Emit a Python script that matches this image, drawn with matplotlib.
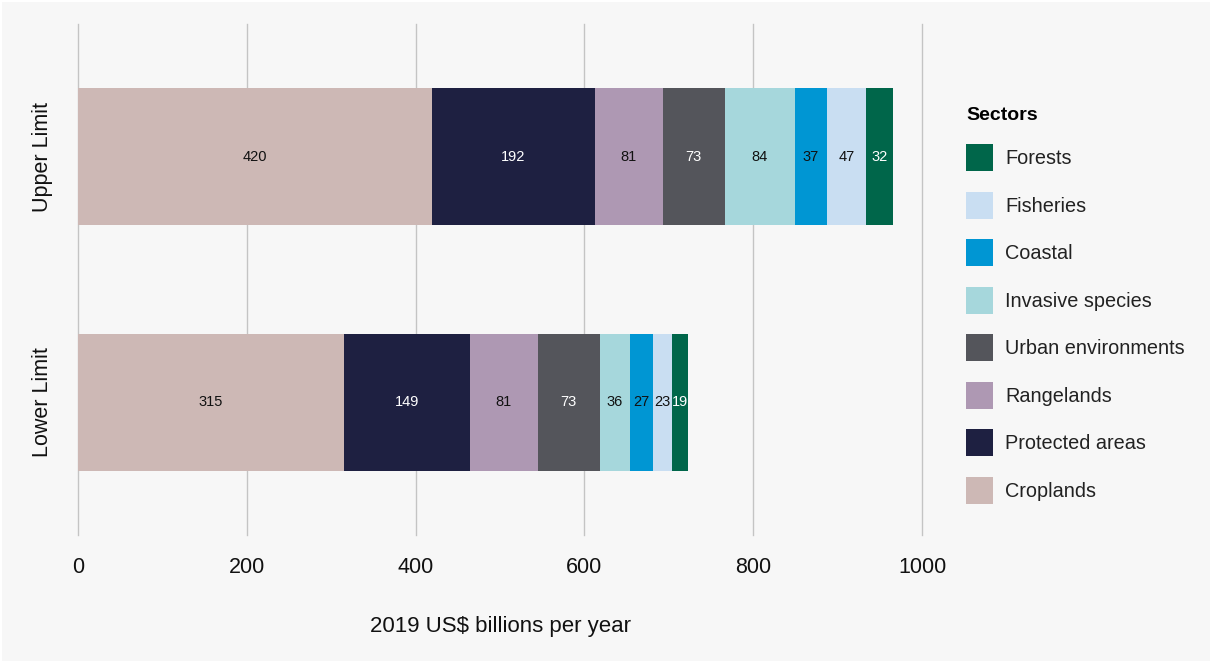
import matplotlib
matplotlib.use("Agg")
import matplotlib.pyplot as plt
from matplotlib.patches import Rectangle, Patch

plt.rcParams['font.family'] = ['Liberation Sans', 'DejaVu Sans']

categories = ["Upper Limit", "Lower Limit"]
sectors = ["Croplands", "Protected areas", "Rangelands", "Urban environments",
           "Invasive species", "Coastal", "Fisheries", "Forests"]
upper_values = [420, 192, 81, 73, 84, 37, 47, 32]
lower_values = [315, 149, 81, 73, 36, 27, 23, 19]
colors = ["#cdb8b5", "#1e2041", "#ae98b3", "#54555b",
          "#a6d7dc", "#0096d3", "#c9def2", "#00664a"]
label_colors = ["#111111", "white", "#111111", "white",
                "#111111", "#111111", "#111111", "white"]
xticks = [0, 200, 400, 600, 800, 1000]

fig = plt.figure(figsize=(12.10, 6.61), dpi=100)
fig.patch.set_facecolor("white")
fig.patches.append(Rectangle((2/1210, 0), 1, 1 - 2/661, transform=fig.transFigure,
                             facecolor="#f7f7f7", edgecolor="none", zorder=-10))

ax = fig.add_axes([78/1210, 1 - 535/661, (922-78)/1210, (535-24)/661])
ax.set_facecolor("none")

ypos = [0, 1]
lefts = [0, 0]
for i, sec in enumerate(sectors):
    vals = [upper_values[i], lower_values[i]]
    bars = ax.barh(ypos, vals, left=lefts, height=0.557, color=colors[i],
                   label=sec, zorder=3)
    ax.bar_label(bars, labels=[str(v) for v in vals], label_type="center",
                 color=label_colors[i], fontsize=10.5)
    lefts = [lefts[0] + vals[0], lefts[1] + vals[1]]

ax.set_xlim(0, 1000)
ax.set_ylim(1.54, -0.54)
ax.set_xticks(xticks)
ax.set_xticklabels([str(t) for t in xticks])
ax.set_yticks(ypos)
ax.set_yticklabels(categories, rotation=90, va="center")
ax.grid(axis="x", color="#c4c4c4", linewidth=1, zorder=0)
ax.grid(axis="y", visible=False)
for gl in ax.get_xgridlines():
    gl.set_clip_on(False)
for s in ax.spines.values():
    s.set_visible(False)
ax.tick_params(axis="x", length=0, pad=16, labelsize=15.5, labelcolor="#111111")
ax.tick_params(axis="y", length=0, pad=18, labelsize=15.5, labelcolor="#111111")
ax.set_xlabel("2019 US$ billions per year", fontsize=16, labelpad=27, color="#111111")

handles = [Patch(facecolor=colors[i], edgecolor="none") for i in range(len(sectors))][::-1]
labels = sectors[::-1]
leg = fig.legend(handles, labels, loc="upper left", bbox_to_anchor=(966/1210, 1 - 107/661),
                 frameon=False, title="Sectors", alignment="left",
                 fontsize=14.3, title_fontproperties={"weight": "bold", "size": 14},
                 handlelength=1.36, handleheight=1.714, handletextpad=0.6,
                 labelspacing=1.03, borderpad=0, borderaxespad=0)
for t in leg.get_texts():
    t.set_color("#222222")

fig.savefig("out.png", dpi=100, facecolor=fig.get_facecolor())
